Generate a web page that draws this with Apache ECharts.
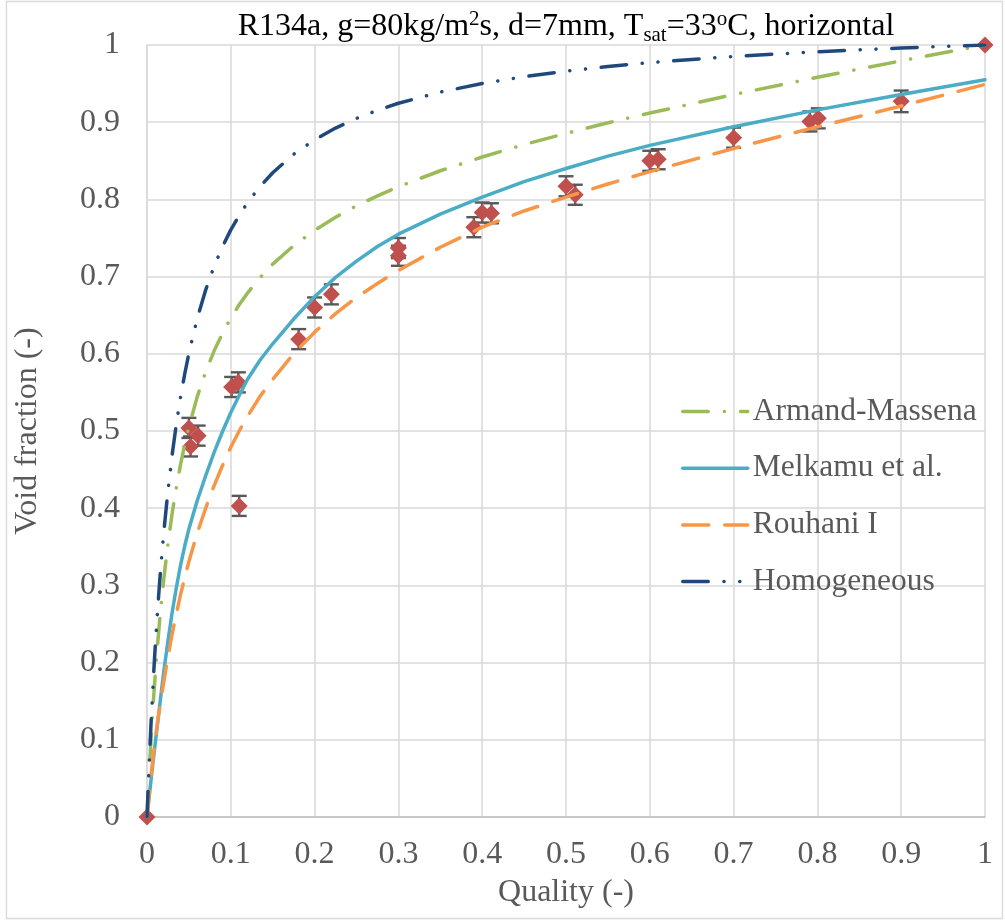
<!DOCTYPE html>
<html>
<head>
<meta charset="utf-8">
<title>Void fraction vs quality</title>
<script src="https://cdn.jsdelivr.net/npm/echarts@6.0.0/dist/echarts.min.js"></script>
<style>
  html, body { margin: 0; padding: 0; background: #ffffff; }
  #chart { width: 1005px; height: 922px; }
</style>
</head>
<body>
<div id="chart"></div>
<script>
// Measured void fraction (R134a, horizontal, 7 mm tube)
const qualityExp = [0, 0.05, 0.052, 0.061, 0.101, 0.109, 0.11, 0.181, 0.2, 0.22, 0.3, 0.3, 0.39, 0.4, 0.411, 0.5, 0.511, 0.6, 0.61, 0.7, 0.791, 0.801, 0.9, 1.0];
const voidExp    = [0, 0.504, 0.48, 0.494, 0.557, 0.563, 0.403, 0.619, 0.660, 0.677, 0.737, 0.727, 0.764, 0.783, 0.782, 0.817, 0.806, 0.850, 0.852, 0.880, 0.901, 0.905, 0.927, 1.0];
const voidErr    = [0, 0.013, 0.013, 0.013, 0.013, 0.013, 0.013, 0.013, 0.013, 0.013, 0.013, 0.013, 0.013, 0.013, 0.013, 0.013, 0.013, 0.013, 0.013, 0.013, 0.013, 0.013, 0.014, 0];

// Correlation curves, sampled at common quality values
const qualityModel = [0, 0.0025, 0.005, 0.0075, 0.01, 0.0125, 0.015, 0.0175, 0.02, 0.025, 0.03, 0.035, 0.04, 0.045, 0.05,
  0.06, 0.07, 0.08, 0.09, 0.1, 0.11, 0.12, 0.135, 0.15, 0.175, 0.2, 0.225, 0.25, 0.275, 0.3, 0.35, 0.4, 0.45, 0.5, 0.55, 0.6, 0.7, 0.8, 0.9, 1.0];
const armandMassena = [0, 0.0557, 0.1047, 0.1482, 0.1870, 0.2218, 0.2533, 0.2820, 0.3080, 0.3540, 0.3931, 0.4269, 0.4564, 0.4823, 0.5053,
  0.5445, 0.5766, 0.6035, 0.6263, 0.6462, 0.6635, 0.6788, 0.6988, 0.7161, 0.7401, 0.7600, 0.7769, 0.7917, 0.8046, 0.8164, 0.8371, 0.8549, 0.8710, 0.8855, 0.8992, 0.9119, 0.9358, 0.9582, 0.9795, 1.0];
const melkamu = [0, 0.025, 0.050, 0.074, 0.097, 0.120, 0.143, 0.166, 0.188, 0.228, 0.265, 0.297, 0.326, 0.351, 0.373,
  0.410, 0.442, 0.472, 0.499, 0.524, 0.546, 0.567, 0.592, 0.613, 0.645, 0.674, 0.699, 0.720, 0.739, 0.755, 0.781, 0.803, 0.823, 0.840, 0.856, 0.870, 0.894, 0.916, 0.936, 0.955];
const rouhani = [0, 0.028, 0.055, 0.080, 0.102, 0.122, 0.141, 0.158, 0.175, 0.207, 0.237, 0.263, 0.288, 0.310, 0.331,
  0.368, 0.400, 0.429, 0.455, 0.479, 0.500, 0.519, 0.545, 0.567, 0.600, 0.628, 0.652, 0.673, 0.691, 0.708, 0.738, 0.764, 0.785, 0.803, 0.820, 0.836, 0.866, 0.894, 0.921, 0.949];
const homogeneous = [0, 0.0668, 0.1256, 0.1776, 0.2240, 0.2656, 0.3032, 0.3373, 0.3683, 0.4228, 0.4691, 0.5089, 0.5435, 0.5738, 0.6006,
  0.6459, 0.6826, 0.7130, 0.7386, 0.7605, 0.7793, 0.7958, 0.8168, 0.8345, 0.8584, 0.8772, 0.8924, 0.9050, 0.9155, 0.9245, 0.9390, 0.9501, 0.9590, 0.9662, 0.9722, 0.9772, 0.9852, 0.9913, 0.9961, 1.0];

const axisTicks = [0, 0.1, 0.2, 0.3, 0.4, 0.5, 0.6, 0.7, 0.8, 0.9, 1];

const FONT = 'Liberation Serif, Times New Roman, serif';
const TEXT = '#595959';
const FS = 32;

const pairs = (xs, ys) => xs.map((x, i) => [x, ys[i]]);
const errData = qualityExp
  .map((x, i) => [x, voidExp[i] - voidErr[i], voidExp[i] + voidErr[i], voidErr[i]])
  .filter(d => d[3] > 0);

function lineSeries(name, ys, color, dash) {
  return {
    name: name,
    type: 'line',
    data: pairs(qualityModel, ys),
    smooth: false,
    symbol: 'none',
    z: 5,
    lineStyle: { color: color, width: 3.5, type: dash, cap: 'round', join: 'round' },
    itemStyle: { color: color }
  };
}

const chart = echarts.init(document.getElementById('chart'), null, { renderer: 'canvas' });
chart.setOption({
  animation: false,
  backgroundColor: '#ffffff',
  grid: { left: 147, right: 20, top: 45, bottom: 105, containLabel: false },
  graphic: [
    {
      type: 'rect', silent: true, z: -10,
      shape: { x: 6.5, y: 1.5, width: 996, height: 917 },
      style: { fill: 'none', stroke: '#d9d9d9', lineWidth: 1.3 }
    },
    {
      type: 'text', z: 10,
      x: 566, y: 27,
      style: {
        text: '{n|R134a, g=80kg/m}{sup|2}{n|s, d=7mm, T}{sub|sat}{n|=33}{sup|o}{n|C, horizontal}',
        align: 'center', verticalAlign: 'middle',
        rich: {
          n:   { fontFamily: FONT, fontSize: FS, color: TEXT, lineHeight: 37, verticalAlign: 'middle' },
          sup: { fontFamily: FONT, fontSize: 21, color: TEXT, lineHeight: 21, verticalAlign: 'top' },
          sub: { fontFamily: FONT, fontSize: 21, color: TEXT, lineHeight: 21, verticalAlign: 'bottom' }
        }
      }
    }
  ],
  legend: {
    orient: 'vertical',
    left: 676, top: 388,
    itemWidth: 65, itemHeight: 14, itemGap: 19.7,
    itemStyle: { opacity: 0 },
    lineStyle: { width: 3.5 },
    textStyle: { fontFamily: FONT, fontSize: 31.5, color: TEXT, lineHeight: 37 },
    data: ['Armand-Massena', 'Melkamu et al.', 'Rouhani I', 'Homogeneous']
  },
  xAxis: {
    type: 'value', min: 0, max: 1, interval: 0.1,
    name: 'Quality (-)', nameLocation: 'middle', nameGap: 60,
    nameTextStyle: { fontFamily: FONT, fontSize: FS, color: TEXT },
    axisLine: { show: true, lineStyle: { color: '#bfbfbf', width: 1.5 } },
    axisTick: { show: false },
    axisLabel: {
      fontFamily: FONT, fontSize: FS, color: TEXT, margin: 22,
      formatter: v => String(axisTicks[Math.round(v * 10)])
    },
    splitLine: { show: true, lineStyle: { color: '#d9d9d9', width: 1.5 } }
  },
  yAxis: {
    type: 'value', min: 0, max: 1, interval: 0.1,
    name: 'Void fraction (-)', nameLocation: 'middle', nameGap: 103,
    nameTextStyle: { fontFamily: FONT, fontSize: FS, color: TEXT },
    axisLine: { show: true, lineStyle: { color: '#d9d9d9', width: 1.5 } },
    axisTick: { show: false },
    axisLabel: {
      fontFamily: FONT, fontSize: FS, color: TEXT, margin: 27,
      formatter: v => String(axisTicks[Math.round(v * 10)])
    },
    splitLine: { show: true, lineStyle: { color: '#d9d9d9', width: 1.5 } }
  },
  series: [
    {
      name: 'error',
      type: 'custom',
      z: 2,
      data: errData,
      encode: { x: 0, y: [1, 2] },
      renderItem: function (params, api) {
        const x = api.value(0);
        const lo = api.coord([x, api.value(1)]);
        const hi = api.coord([x, api.value(2)]);
        const hw = 7.5;
        const st = { stroke: '#595959', lineWidth: 2.4 };
        return {
          type: 'group',
          children: [
            { type: 'line', shape: { x1: lo[0], y1: lo[1], x2: hi[0], y2: hi[1] }, style: st },
            { type: 'line', shape: { x1: lo[0] - hw, y1: lo[1], x2: lo[0] + hw, y2: lo[1] }, style: st },
            { type: 'line', shape: { x1: hi[0] - hw, y1: hi[1], x2: hi[0] + hw, y2: hi[1] }, style: st }
          ]
        };
      }
    },
    {
      name: 'Experiment',
      type: 'scatter',
      z: 3,
      symbol: 'diamond',
      symbolSize: 17,
      data: pairs(qualityExp, voidExp),
      itemStyle: { color: '#C0504D', opacity: 1 }
    },
    lineSeries('Armand-Massena', armandMassena, '#9BBB59', [25.5, 16.1, 0.1, 16.1]),
    lineSeries('Melkamu et al.', melkamu, '#4BACC6', 'solid'),
    lineSeries('Rouhani I', rouhani, '#F79646', [26, 16]),
    lineSeries('Homogeneous', homogeneous, '#1F497D', [25.5, 15.7, 0.1, 15.7, 0.1, 15.7])
  ]
});
</script>
</body>
</html>
